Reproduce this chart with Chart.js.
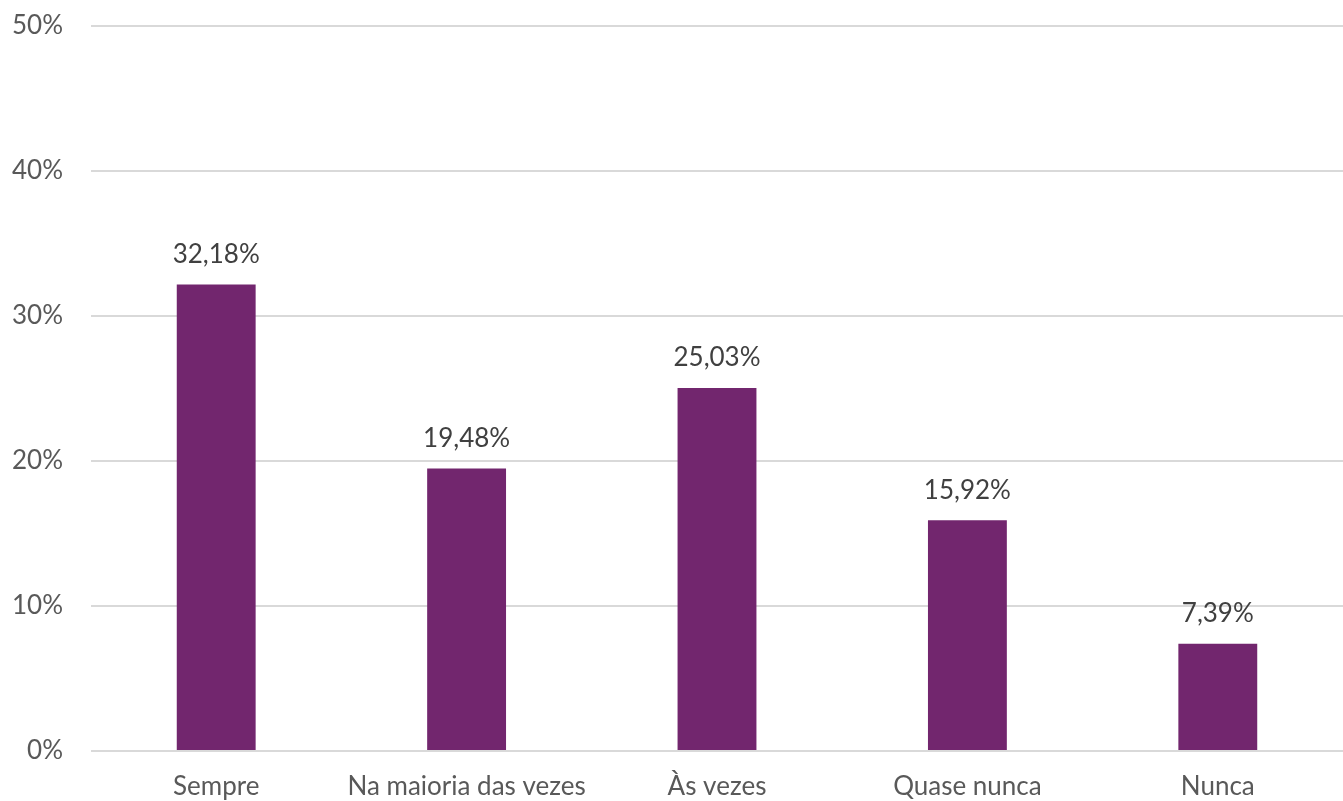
<!DOCTYPE html>
<html>
<head>
<meta charset="utf-8">
<script src="https://cdn.jsdelivr.net/npm/chart.js@4/dist/chart.umd.min.js"></script>
<style>
  html, body { margin: 0; padding: 0; background: #ffffff; }
  #wrap { width: 1343px; height: 801px; }
</style>
</head>
<body>
<div id="wrap"><canvas id="c" width="1343" height="801"></canvas></div>
<script>
// Response categories and their shares (%)
const categories = ['Sempre', 'Na maioria das vezes', 'Às vezes', 'Quase nunca', 'Nunca'];
const shares = [32.18, 19.48, 25.03, 15.92, 7.39];
const yTicks = [0, 10, 20, 30, 40, 50];

const FONT = 'Lato, "Open Sans", sans-serif';

// Writes each bar's value above it, with a decimal comma
const valueLabels = {
  id: 'valueLabels',
  afterDatasetsDraw(chart) {
    const ctx = chart.ctx;
    const meta = chart.getDatasetMeta(0);
    ctx.save();
    ctx.font = '26px ' + FONT;
    ctx.fillStyle = '#404040';
    ctx.textAlign = 'center';
    ctx.textBaseline = 'bottom';
    meta.data.forEach((bar, i) => {
      const txt = shares[i].toFixed(2).replace('.', ',') + '%';
      ctx.fillText(txt, bar.x, bar.y - 17);
    });
    ctx.restore();
  }
};

new Chart(document.getElementById('c'), {
  type: 'bar',
  data: {
    labels: categories,
    datasets: [{
      data: shares,
      backgroundColor: '#72266E',
      borderWidth: 0,
      categoryPercentage: 1,
      barPercentage: 0.315
    }]
  },
  options: {
    responsive: false,
    animation: false,
    events: [],
    layout: { padding: { top: 26, right: 0, bottom: 0, left: 0 } },
    plugins: { legend: { display: false }, tooltip: { enabled: false } },
    scales: {
      x: {
        grid: { display: false, drawTicks: false },
        border: { display: false },
        ticks: { color: '#595959', font: { family: FONT, size: 26 }, padding: 20, maxRotation: 0 },
        afterFit(scale) {
          scale.height = 50;
          scale.paddingLeft = 0;
          scale.paddingRight = 0;
        }
      },
      y: {
        min: 0,
        max: 50,
        afterBuildTicks(scale) { scale.ticks = yTicks.map(v => ({ value: v })); },
        grid: { color: '#d9d9d9', lineWidth: 2, drawTicks: false },
        border: { display: false },
        ticks: {
          color: '#595959',
          font: { family: FONT, size: 26 },
          padding: 28,
          callback: v => v + '%'
        },
        afterFit(scale) {
          scale.width = 91;
          scale.paddingTop = 0;
          scale.paddingBottom = 0;
        }
      }
    }
  },
  plugins: [valueLabels]
});
</script>
</body>
</html>
